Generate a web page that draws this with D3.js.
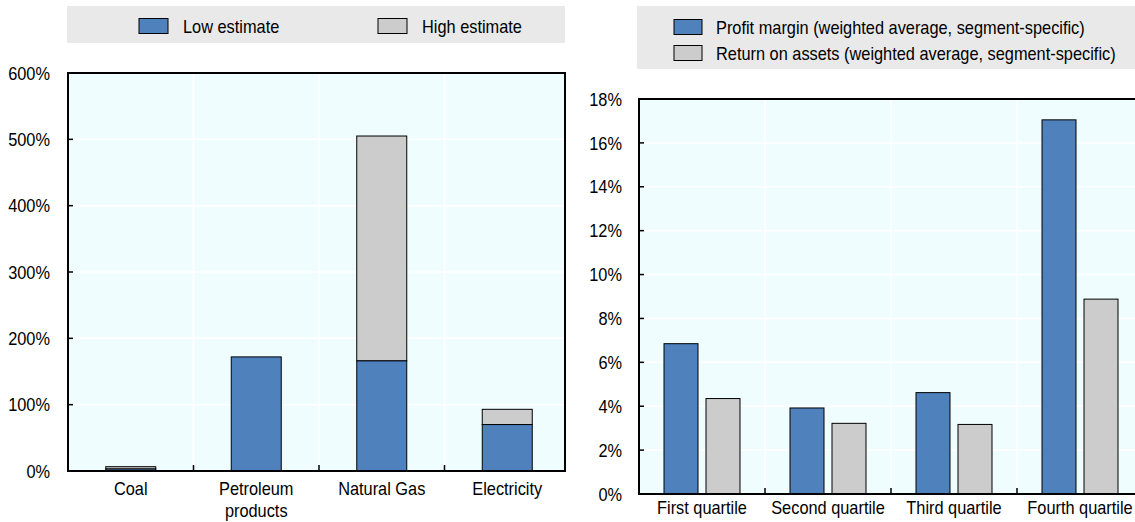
<!DOCTYPE html>
<html>
<head>
<meta charset="utf-8">
<script src="https://cdn.jsdelivr.net/npm/d3@7"></script>
<style>
  body { margin: 0; background: #fff; }
  svg text { font-family: "Liberation Sans", Arial, sans-serif; font-size: 19px; fill: #000; }
</style>
</head>
<body>
<div id="chart"></div>
<script>
// left panel: price change by energy type
const energyTypes = ["Coal", "Petroleum products", "Natural Gas", "Electricity"];
const lowEstimate = [3, 172, 166, 70];
const highEstimate = [6.5, 172, 505, 93];
const leftTicks = [0, 100, 200, 300, 400, 500, 600];

// right panel: profitability by quartile
const quartiles = ["First quartile", "Second quartile", "Third quartile", "Fourth quartile"];
const profitMargin = [6.85, 3.92, 4.62, 17.05];
const returnOnAssets = [4.35, 3.22, 3.17, 8.88];
const rightTicks = [0, 2, 4, 6, 8, 10, 12, 14, 16, 18];

const blue = "#4f81bd";
const grey = "#cccccc";
const plotBg = "#f0fdff";
const squeeze = 0.86; // reference font is a condensed sans

const svg = d3.select("#chart").append("svg")
    .attr("width", 1135)
    .attr("height", 522);

// --- left chart ---
const L = { left: 68, right: 565, top: 73, bottom: 471, xEnd: 570 };

const xL = d3.scaleBand()
    .domain(energyTypes)
    .range([L.left, L.xEnd])
    .paddingInner(0.6016)
    .paddingOuter(0.3008);
const yL = d3.scaleLinear().domain([0, 600]).range([L.bottom, L.top]);

const gL = svg.append("g");
gL.append("rect")
    .attr("x", L.left).attr("y", L.top)
    .attr("width", L.right - L.left).attr("height", L.bottom - L.top)
    .attr("fill", plotBg);

// gridlines
gL.selectAll(".hgrid").data(leftTicks.slice(1, -1)).enter().append("line")
    .attr("x1", L.left).attr("x2", L.right)
    .attr("y1", d => yL(d)).attr("y2", d => yL(d))
    .attr("stroke", "#fff").attr("stroke-width", 1.5);
const leftBounds = energyTypes.slice(1).map(c => xL(c) - xL.step() * xL.paddingInner() / 2);
gL.selectAll(".vgrid").data(leftBounds).enter().append("line")
    .attr("x1", d => d).attr("x2", d => d)
    .attr("y1", L.top).attr("y2", L.bottom)
    .attr("stroke", "#fff").attr("stroke-width", 1.5);

// bars: high estimate drawn from low to high, low estimate from 0
const leftData = energyTypes.map((c, i) => ({ cat: c, low: lowEstimate[i], high: highEstimate[i] }));
gL.selectAll(".high").data(leftData.filter(d => d.high > d.low)).enter().append("rect")
    .attr("x", d => xL(d.cat)).attr("width", xL.bandwidth())
    .attr("y", d => yL(d.high)).attr("height", d => yL(d.low) - yL(d.high))
    .attr("fill", grey).attr("stroke", "#000").attr("stroke-width", 1);
gL.selectAll(".low").data(leftData).enter().append("rect")
    .attr("x", d => xL(d.cat)).attr("width", xL.bandwidth())
    .attr("y", d => yL(d.low)).attr("height", d => yL(0) - yL(d.low))
    .attr("fill", blue).attr("stroke", "#000").attr("stroke-width", 1);

// ticks inside
gL.selectAll(".ytick").data(leftTicks).enter().append("line")
    .attr("x1", L.left).attr("x2", L.left + 5)
    .attr("y1", d => yL(d)).attr("y2", d => yL(d))
    .attr("stroke", "#000").attr("stroke-width", 1.5);
gL.selectAll(".xtick").data(leftBounds).enter().append("line")
    .attr("x1", d => d).attr("x2", d => d)
    .attr("y1", L.bottom).attr("y2", L.bottom - 6)
    .attr("stroke", "#000").attr("stroke-width", 1.5);

// frame
gL.append("rect")
    .attr("x", L.left).attr("y", L.top)
    .attr("width", L.right - L.left).attr("height", L.bottom - L.top)
    .attr("fill", "none").attr("stroke", "#000").attr("stroke-width", 2);

gL.selectAll(".ylab").data(leftTicks).enter().append("text")
    .attr("x", 50).attr("y", d => yL(d)).attr("dy", "0.35em")
    .attr("text-anchor", "end")
    .text(d => d + "%");

const catLabels = gL.selectAll(".xlab").data(energyTypes).enter().append("text")
    .attr("text-anchor", "middle")
    .attr("x", d => xL(d) + xL.bandwidth() / 2)
    .attr("y", 495);
catLabels.each(function(d) {
    const words = d === "Petroleum products" ? ["Petroleum", "products"] : [d];
    const t = d3.select(this);
    words.forEach((w, i) => {
        t.append("tspan")
            .attr("x", xL(d) + xL.bandwidth() / 2)
            .attr("dy", i === 0 ? 0 : 22)
            .text(w);
    });
});

// legend left
const legL = svg.append("g");
legL.append("rect").attr("x", 67).attr("y", 6).attr("width", 498).attr("height", 37).attr("fill", "#e9e9e9");
const legLItems = [{ name: "Low estimate", color: blue, x: 139 }, { name: "High estimate", color: grey, x: 378 }];
legLItems.forEach(it => {
    legL.append("rect").attr("x", it.x).attr("y", 18.5).attr("width", 29).attr("height", 15)
        .attr("fill", it.color).attr("stroke", "#000").attr("stroke-width", 1);
    legL.append("text").attr("x", it.x + 44).attr("y", 26).attr("dy", "0.35em").text(it.name);
});

// --- right chart ---
const R = { left: 639, right: 1143, top: 99, bottom: 494 };
const seriesNames = ["Profit margin (weighted average, segment-specific)",
                     "Return on assets (weighted average, segment-specific)"];

const x0 = d3.scaleBand()
    .domain(quartiles)
    .range([R.left, R.right])
    .paddingInner(50 / 126)
    .paddingOuter(25 / 126);
const x1 = d3.scaleBand()
    .domain(seriesNames)
    .range([0, x0.bandwidth()])
    .paddingInner(8 / 42);
const yR = d3.scaleLinear().domain([0, 18]).range([R.bottom, R.top]);

const gR = svg.append("g");
gR.append("rect")
    .attr("x", R.left).attr("y", R.top)
    .attr("width", R.right - R.left).attr("height", R.bottom - R.top)
    .attr("fill", plotBg);
gR.selectAll(".hgrid").data(rightTicks.slice(1, -1)).enter().append("line")
    .attr("x1", R.left).attr("x2", R.right)
    .attr("y1", d => yR(d)).attr("y2", d => yR(d))
    .attr("stroke", "#fff").attr("stroke-width", 1.5);
const rightBounds = quartiles.slice(1).map(c => x0(c) - x0.step() * x0.paddingInner() / 2);
gR.selectAll(".vgrid").data(rightBounds).enter().append("line")
    .attr("x1", d => d).attr("x2", d => d)
    .attr("y1", R.top).attr("y2", R.bottom)
    .attr("stroke", "#fff").attr("stroke-width", 1.5);

const rightData = quartiles.map((q, i) => ({ q: q, vals: [profitMargin[i], returnOnAssets[i]] }));
const groups = gR.selectAll(".grp").data(rightData).enter().append("g")
    .attr("transform", d => `translate(${x0(d.q)},0)`);
groups.selectAll("rect").data(d => d.vals.map((v, i) => ({ s: seriesNames[i], v: v, c: i === 0 ? blue : grey })))
    .enter().append("rect")
    .attr("x", d => x1(d.s)).attr("width", x1.bandwidth())
    .attr("y", d => yR(d.v)).attr("height", d => yR(0) - yR(d.v))
    .attr("fill", d => d.c).attr("stroke", "#000").attr("stroke-width", 1);

gR.selectAll(".ytick").data(rightTicks).enter().append("line")
    .attr("x1", R.left).attr("x2", R.left + 5)
    .attr("y1", d => yR(d)).attr("y2", d => yR(d))
    .attr("stroke", "#000").attr("stroke-width", 1.5);
gR.selectAll(".xtick").data(rightBounds).enter().append("line")
    .attr("x1", d => d).attr("x2", d => d)
    .attr("y1", R.bottom).attr("y2", R.bottom - 6)
    .attr("stroke", "#000").attr("stroke-width", 1.5);
gR.append("rect")
    .attr("x", R.left).attr("y", R.top)
    .attr("width", R.right - R.left).attr("height", R.bottom - R.top)
    .attr("fill", "none").attr("stroke", "#000").attr("stroke-width", 2);

gR.selectAll(".ylab").data(rightTicks).enter().append("text")
    .attr("x", 622).attr("y", d => yR(d)).attr("dy", "0.35em")
    .attr("text-anchor", "end")
    .text(d => d + "%");
gR.selectAll(".xlab").data(quartiles).enter().append("text")
    .attr("text-anchor", "middle")
    .attr("x", d => x0(d) + x0.bandwidth() / 2)
    .attr("y", 514)
    .text(d => d);

// legend right
const legR = svg.append("g");
legR.append("rect").attr("x", 637).attr("y", 6).attr("width", 498).attr("height", 63).attr("fill", "#e9e9e9");
seriesNames.forEach((name, i) => {
    const cy = 27 + i * 26;
    legR.append("rect").attr("x", 674).attr("y", cy - 7.5).attr("width", 28).attr("height", 15)
        .attr("fill", i === 0 ? blue : grey).attr("stroke", "#000").attr("stroke-width", 1);
    legR.append("text").attr("x", 716).attr("y", cy).attr("dy", "0.35em").text(name);
});

// condense every text run to mimic the narrow face of the original
svg.selectAll("text").each(function() {
    const t = d3.select(this);
    const spans = t.selectAll("tspan");
    const runs = spans.empty() ? [this] : spans.nodes();
    runs.forEach(n => {
        const w = n.getComputedTextLength();
        d3.select(n).attr("textLength", w * squeeze).attr("lengthAdjust", "spacingAndGlyphs");
    });
});
</script>
</body>
</html>
